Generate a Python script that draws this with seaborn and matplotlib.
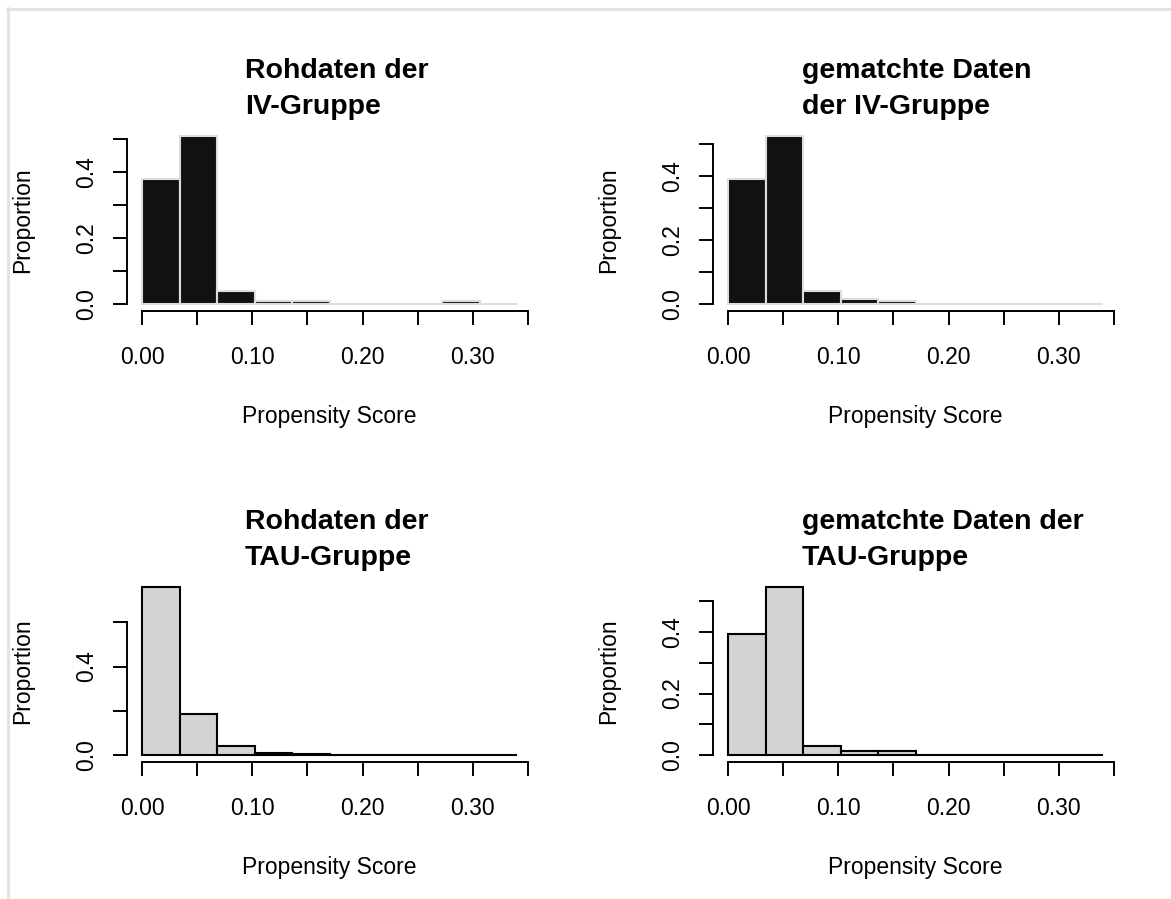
import numpy as np
import pandas as pd
import matplotlib
matplotlib.use("Agg")
import matplotlib.pyplot as plt
import seaborn as sns
from matplotlib.lines import Line2D

# ---- data (proportions per histogram bin) ----
bin_start, bin_end, n_bins = 0.0, 0.34, 10
iv_raw = [0.381, 0.511, 0.040, 0.011, 0.011, 0.0, 0.0, 0.0, 0.011, 0.0]
iv_matched = [0.390, 0.526, 0.041, 0.016, 0.011, 0.0, 0.0, 0.0, 0.0, 0.0]
tau_raw = [0.760, 0.186, 0.040, 0.010, 0.004, 0.002, 0.002, 0.002, 0.0005, 0.0005]
tau_matched = [0.393, 0.546, 0.030, 0.013, 0.013, 0.0, 0.0, 0.0, 0.0, 0.0]

titles = ["Rohdaten der\nIV-Gruppe", "gematchte Daten\nder IV-Gruppe",
          "Rohdaten der\nTAU-Gruppe", "gematchte Daten der\nTAU-Gruppe"]
x_label = "Propensity Score"
y_label = "Proportion"
x_ticks = [0.00, 0.05, 0.10, 0.15, 0.20, 0.25, 0.30, 0.35]
x_tick_labels = ["0.00", "", "0.10", "", "0.20", "", "0.30", ""]
y_ticks_a = [0.0, 0.1, 0.2, 0.3, 0.4, 0.5]
y_tick_labels_a = ["0.0", "", "0.2", "", "0.4", ""]
y_ticks_b = [0.0, 0.2, 0.4, 0.6]
y_tick_labels_b = ["0.0", "", "0.4", ""]

breaks = np.linspace(bin_start, bin_end, n_bins + 1)
mids = (breaks[:-1] + breaks[1:]) / 2

sns.set_style("ticks")
plt.rcParams['font.family'] = ['Liberation Sans', 'DejaVu Sans']
plt.rcParams['text.color'] = 'black'

W, H = 1171, 899
fig = plt.figure(figsize=(W / 100, H / 100), dpi=100)


def px(x, y):
    return x / W, 1 - y / H


# light frame (top and left edges)
for xs, ys in [((7, 1175), (8.5, 8.5)), ((7.5, 7.5), (8, 905))]:
    fig.add_artist(Line2D([xs[0] / W, xs[1] / W], [1 - ys[0] / H, 1 - ys[1] / H],
                          transform=fig.transFigure, color="#e3e3e3", lw=2.2))

panels = [
    (iv_raw, titles[0], "#111111", "#dddddd", 127, 129, y_ticks_a, y_tick_labels_a, 245),
    (iv_matched, titles[1], "#111111", "#dddddd", 713, 129, y_ticks_a, y_tick_labels_a, 802),
    (tau_raw, titles[2], "#d3d3d3", "#000000", 127, 580, y_ticks_b, y_tick_labels_b, 245),
    (tau_matched, titles[3], "#d3d3d3", "#000000", 713, 580, y_ticks_a, y_tick_labels_a, 802),
]

AW, AH = 405, 182
for vals, title, fill, edge, left, top, yt, ytl, tx in panels:
    ax = fig.add_axes([left / W, (H - top - AH) / H, AW / W, AH / H])
    df = pd.DataFrame({"ps": mids, "prop": vals})
    sns.histplot(data=df, x="ps", weights="prop", bins=n_bins,
                 binrange=(bin_start, bin_end), stat="count",
                 color=fill, edgecolor=edge, linewidth=1.5, alpha=1, ax=ax)
    ymax = max(vals)
    ax.set_xlim(bin_start - 0.04 * (bin_end - bin_start), bin_end + 0.04 * (bin_end - bin_start))
    ax.set_ylim(-0.04 * ymax, 1.04 * ymax)
    ax.set_xlabel("")
    ax.set_ylabel("")
    for s in ["top", "right"]:
        ax.spines[s].set_visible(False)
    ax.spines["left"].set_bounds(yt[0], yt[-1])
    ax.spines["bottom"].set_bounds(x_ticks[0], x_ticks[-1])
    for s in ["left", "bottom"]:
        ax.spines[s].set_color("black")
        ax.spines[s].set_linewidth(1.4)
    ax.set_xticks(x_ticks)
    ax.set_xticklabels(x_tick_labels)
    ax.set_yticks(yt)
    ax.set_yticklabels(ytl, rotation=90, va="center")
    ax.tick_params(axis="both", length=10, width=1.4, color="black",
                   labelsize=16.5, labelcolor="black")
    ax.tick_params(axis="x", pad=15.5)
    ax.tick_params(axis="y", pad=11)

    cx = left + AW / 2
    fig.text(*px(cx, top + 294), x_label, ha="center", va="baseline",
             fontsize=16.5, color="black")
    fig.text(*px(left - 104, top + AH / 2), y_label, ha="center", va="center",
             rotation=90, fontsize=16.5, color="black")
    fig.text(*px(tx, top - 71), title, ha="left", va="top", fontsize=20.5,
             fontweight="bold", linespacing=1.52, color="black")

fig.savefig("out.png", dpi=100)
